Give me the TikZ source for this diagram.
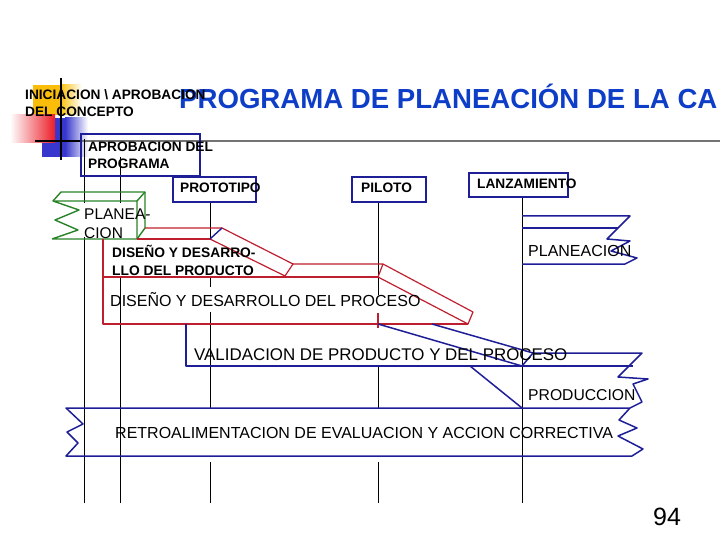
\documentclass[tikz,border=0pt]{standalone}
\usepackage{fontspec}
\setmainfont{Liberation Sans}
\definecolor{tblue}{RGB}{14,62,200}
\definecolor{nav}{RGB}{30,30,150}
\definecolor{rd}{RGB}{190,30,45}
\definecolor{gr}{RGB}{40,130,40}
\definecolor{gold}{RGB}{250,190,10}
\definecolor{sqblue}{RGB}{55,55,205}
\definecolor{sqred}{RGB}{235,30,40}
\begin{document}
\begin{tikzpicture}[x=1pt,y=-1pt,
  lbl/.style={anchor=base west,inner sep=0pt,font=\fontsize{13.7}{16}\selectfont\bfseries},
  txt/.style={anchor=base west,inner sep=0pt,font=\fontsize{16}{19}\selectfont},
  bx/.style={draw=nav,line width=1.2pt},
  vl/.style={draw=black,line width=0.9pt},
  rl/.style={draw=rd,line width=1.2pt,line join=round},
  bl/.style={draw=nav,line width=1.5pt,line join=round},
  gl/.style={draw=gr,line width=1.4pt,line join=round}]
\useasboundingbox (0,0) rectangle (720,540);
\clip (0,0) rectangle (720,540);
% decoration
\fill[gold] (33,85) rectangle (60,115);
\shade[left color=gold,right color=white] (60,85) rectangle (82,115);
\fill[sqblue] (42,118) rectangle (65,157);
\shade[left color=sqblue,right color=white] (65,118) rectangle (88,157);
\shade[left color=white,right color=sqred] (10,115) rectangle (55,143);
\draw[black!55,line width=2pt] (80,141) -- (720,141);
\draw[black,line width=2.2pt] (35,141) -- (82,141);
\draw[black,line width=2.5pt] (61,78) -- (61,160);
% title
\node[anchor=base west,inner sep=0pt,text=tblue,font=\fontsize{27.6}{33}\selectfont\bfseries] (title) at (179,109) {PROGRAMA DE PLANEACIÓN DE LA CA};
\node[lbl] (ini1) at (25,100) {INICIACION \textbackslash{} APROBACION};
\node[lbl] (ini2) at (25,117) {DEL CONCEPTO};
% vertical lines
\draw[vl] (84,139) -- (84,203) (84,237) -- (84,503);
\draw[vl] (120,157) -- (120,203) (120,277) -- (120,503);
\draw[vl] (210,202) -- (210,239) (210,276) -- (210,287) (210,312) -- (210,408) (210,462) -- (210,503);
\draw[vl] (378,202) -- (378,295) (378,367) -- (378,408) (378,462) -- (378,503);
\draw[rl] (378,313) -- (378,328);
\draw[vl] (522,197) -- (522,503);
% boxes
\draw[bx] (81,134) rectangle (200,176);
\draw[bx] (173,177) rectangle (256,202);
\draw[bx] (352,177) rectangle (426,202);
\draw[bx] (469,173) rectangle (568,197);
\node[lbl] (apr1) at (88,152) {APROBACION DEL};
\node[lbl] (apr2) at (88,169) {PROGRAMA};
\node[lbl] (proto) at (180,193) {PROTOTIPO};
\node[lbl] (pil) at (361,193) {PILOTO};
\node[lbl] (lanz) at (477,189) {LANZAMIENTO};
% green planeacion box
\draw[gl] (52,239) -- (137,239) -- (137,201) -- (53,201) -- (79,210) -- (55,220) -- (78,230) -- (52,239);
\draw[gl] (53,201) -- (61,192) -- (145,192) -- (145,228) -- (137,239);
\draw[gl] (137,201) -- (145,192);
\node[txt,font=\fontsize{15.5}{18}\selectfont] (pl1) at (84,220) {PLANEA-};
\node[txt,font=\fontsize{15.5}{18}\selectfont] (pl2) at (84,239) {CION};
% red product / process
\draw[rl] (137,239) -- (210,239);
\draw[rl] (145,228) -- (222,228) -- (293,264) -- (285,276) -- (210,239);
\draw[rl] (293,264) -- (383,264) -- (473,312) -- (468,324) -- (378,277) -- (383,264);
\draw[rl] (378,277) -- (103,277);
\draw[rl] (103,239) -- (103,324) -- (468,324);
\draw[nav,line width=1.4pt] (210,239) -- (222,228);
\node[lbl,font=\fontsize{13.8}{16}\selectfont\bfseries] (dp1) at (112,258) {DISEÑO Y DESARRO-};
\node[lbl,font=\fontsize{13.8}{16}\selectfont\bfseries] (dp2) at (112,275) {LLO DEL PRODUCTO};
\node[txt] (dproc) at (110,306.5) {DISEÑO Y DESARROLLO DEL PROCESO};
% blue planeacion band
\draw[bl] (522,216) -- (630,216) -- (607,239) -- (630,241) -- (611,251) -- (637,258) -- (625,264) -- (522,264);
\draw[bl] (522,228) -- (618,228);
\node[txt] (plan) at (528,256) {PLANEACION};
% validation
\draw[bl] (186,324) -- (186,366) -- (633,366);
\draw[bl] (378,324) -- (522,366) -- (533,353) -- (642,353) -- (618,377) -- (648,379) -- (633,384) -- (642,402) -- (630,408);
\draw[bl] (432,324) -- (533,353);
\node[txt,font=\fontsize{16.9}{20}\selectfont] (valid) at (194,360.5) {VALIDACION DE PRODUCTO Y DEL PROCESO};
% production
\draw[bl] (470,366) -- (522,408);
\node[txt,font=\fontsize{15.7}{19}\selectfont] (prod) at (528,400) {PRODUCCION};
% retro
\draw[bl] (630,408) -- (66,408) -- (83,424) -- (67,432) -- (78,443) -- (66,456) -- (632,456) -- (643,449) -- (618,436) -- (637,428) -- (619,420) -- (630,408);
\node[txt] (retro) at (115,438) {RETROALIMENTACION DE EVALUACION Y ACCION CORRECTIVA};
\node[anchor=base west,inner sep=0pt,font=\fontsize{25}{30}\selectfont] (pg) at (653,525) {94};
\end{tikzpicture}
\end{document}
